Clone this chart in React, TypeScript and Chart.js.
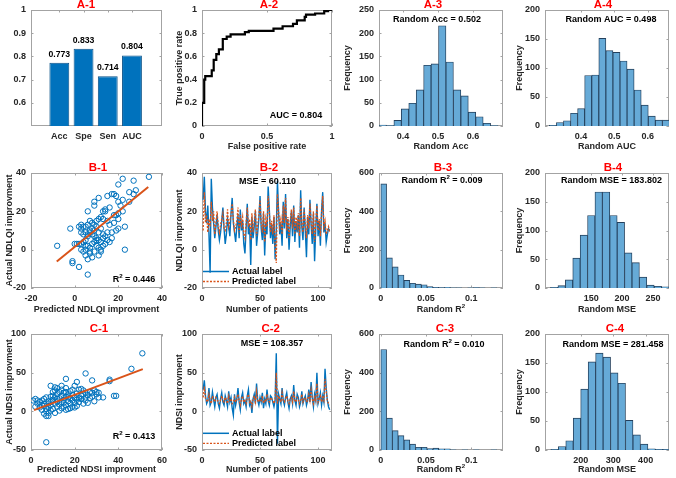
import React, { useEffect, useRef } from 'react';
import { Chart, registerables } from 'chart.js';

Chart.register(...registerables);

const FONT = '"Liberation Sans", Arial, Helvetica, sans-serif';
const TEXT = '#262626';
const BOX = '#a3a3a3';
const BLUE = '#0072BD';
const ORANGE = '#D95319';
const HIST_FILL = '#66AAD7';
const HIST_EDGE = '#24405c';
const PADL = 40, PADT = 20, PADR = 14, PADB = 40;

// ---------------- data ----------------
const metricNames = ['Acc', 'Spe', 'Sen', 'AUC'];
const metricValues = [0.773, 0.833, 0.714, 0.804];

const rocPoints: [number, number][] = [
  [0, 0], [0, 0.2], [0.017, 0.2], [0.017, 0.4], [0.025, 0.4], [0.025, 0.43], [0.075, 0.43], [0.075, 0.48],
  [0.09, 0.48], [0.09, 0.57], [0.11, 0.57], [0.11, 0.62], [0.13, 0.62], [0.13, 0.66], [0.16, 0.66], [0.16, 0.75],
  [0.19, 0.75], [0.19, 0.77], [0.22, 0.77], [0.22, 0.79], [0.33, 0.79], [0.33, 0.81], [0.36, 0.81], [0.36, 0.82],
  [0.55, 0.82], [0.55, 0.84], [0.62, 0.84], [0.62, 0.86], [0.7, 0.86], [0.7, 0.88], [0.73, 0.88], [0.73, 0.91],
  [0.79, 0.91], [0.79, 0.94], [0.8, 0.94], [0.8, 0.96], [0.87, 0.96], [0.87, 0.97], [0.94, 0.97], [0.94, 0.99],
  [0.97, 0.99], [0.97, 1], [1, 1],
];

// histograms: first bin edge, bin width, counts
const accBinStart = 0.331, accBinWidth = 0.0213;
const accCounts = [2, 1, 12, 37, 49, 78, 131, 134, 216, 138, 78, 65, 30, 20, 6, 1];
const aucBinStart = 0.305, aucBinWidth = 0.0212;
const aucCounts = [1, 6, 9, 22, 30, 87, 88, 151, 130, 127, 112, 98, 62, 36, 17, 10, 10];
const r2BinStart = 0, r2BinWidth = 0.0064;
const ndlqiR2Counts = [543, 157, 110, 68, 40, 25, 20, 17, 7, 3, 2, 4, 1, 1, 0, 1, 2, 1, 0, 1];
const ndsiR2Counts = [520, 165, 100, 74, 52, 30, 14, 14, 7, 10, 6, 6, 1, 0, 1, 0, 1, 0, 0, 1];
const ndlqiMseBinStart = 84, ndlqiMseBinWidth = 12;
const ndlqiMseCounts = [1, 4, 14, 52, 92, 126, 167, 167, 126, 114, 61, 44, 19, 5, 3, 2];
const ndsiMseBinStart = 108, ndsiMseBinWidth = 23;
const ndsiMseCounts = [1, 6, 16, 55, 105, 152, 167, 160, 133, 115, 51, 26, 10, 2, 1, 1];

// B-1 scatter (predicted, actual)
const ndlqiScatter: [number, number][] = [
  [34, 38], [22, 37], [27, 36], [20, 34], [28, 31], [27, 29], [25, 30], [17, 29], [18, 29], [19, 28],
  [15, 28], [11, 27], [9, 25], [9, 23], [20, 25], [22, 26], [25, 25], [21, 23], [22, 20], [14, 21],
  [14, 20], [6, 20], [20, 19], [18, 18], [12, 17], [13, 16], [11, 16], [10, 15], [15, 15], [18, 14],
  [16, 13], [23, 12], [20, 11], [19, 10], [17, 9], [15, 9], [13, 8], [12, 11], [10, 12], [9, 13],
  [8, 14], [7, 15], [6, 13], [5, 12], [4, 12], [3, 11], [3, 9], [4, 8], [5, 9], [6, 8],
  [7, 10], [8, 8], [9, 7], [10, 6], [11, 5], [12, 4], [13, 6], [14, 7], [15, 5], [11, 9],
  [9, 10], [8, 11], [7, 9], [6, 7], [5, 5], [4, 4], [3, 3], [2, 3], [1, 3], [0, 3],
  [-2, 11], [-8, 2], [-1, -6], [-1, -7], [2, -9], [6, -13], [5, -3], [7, -2], [8, -4], [6, -5],
  [9, -1], [7, 1], [6, 2], [5, 2], [10, 2], [11, 1], [12, 0], [8, 3], [9, 4], [10, 5],
  [23, 0], [17, 6], [16, 4], [14, 3], [13, 2], [12, -1], [11, -3], [7, -1], [5, 0], [4, -1],
  [3, 0], [19, 18], [20, 16], [16, 22], [13, 20], [3, 13], [2, 12],
];
const ndlqiFit: [number, number][] = [[-8.2, -6.2], [33.7, 32.7]];

// C-1 scatter (predicted, actual)
const ndsiScatter: [number, number][] = [
  [51, 75], [46, 55], [36, 41], [36, 39], [25, 49], [16, 42], [28, 40], [21, 38], [9, 33], [11, 31],
  [23, 29], [24, 27], [30, 25], [31, 24], [39, 20], [38, 20], [2, 16], [7, -6], [8, -6], [7, -40],
  [4, 12], [5, 14], [6, 10], [6, 7], [7, 3], [7, 0], [8, -2], [8, 5], [9, 12], [9, 8],
  [10, 15], [10, 20], [10, 3], [11, 10], [11, 18], [12, 22], [12, 6], [12, 13], [13, 25], [13, 17],
  [13, 9], [14, 28], [14, 20], [14, 4], [15, 15], [15, 11], [15, 24], [16, 19], [16, 8], [16, 30],
  [17, 13], [17, 22], [17, 3], [18, 17], [18, 10], [18, 26], [19, 14], [19, 6], [19, 21], [20, 33],
  [20, 18], [20, 11], [21, 23], [21, 15], [21, 7], [22, 28], [22, 12], [23, 20], [23, 16], [24, 10],
  [24, 22], [25, 18], [25, 14], [26, 21], [26, 11], [27, 25], [27, 17], [28, 19], [29, 13], [30, 22],
  [31, 18], [33, 18], [3, 10], [4, 5], [5, 2], [6, -3], [8, 13], [9, 19], [10, 25], [11, 27],
  [12, 16], [13, 1], [14, 12], [15, 6], [16, 2], [17, 18], [18, 4], [19, 28], [11, -2], [9, 1],
  [5, 8], [6, 16], [7, 18], [8, 10], [2, 6], [3, 14], [12, 30], [14, 33], [16, 25], [20, 5],
  [22, 17], [25, 24], [28, 24], [29, 27], [1, 14],
];
const ndsiFit: [number, number][] = [[1.4, 1.6], [51.2, 54.5]];

// B-2 per patient
const ndlqiActual = [
  26, 38, 20, 14, 23, 8, -12, 37, 22, 14,
  6, 12, 18, 10, 5, 9, 15, 22, 11, 3,
  8, 16, 12, 7, 19, 27, 14, 9, 4, 12,
  18, 6, 21, 10, 15, 3, -2, 11, 24, 8,
  13, -8, 17, 6, 12, 20, 2, 9, 16, 28,
  11, 5, 19, -3, 14, 8, 33, 21, 6, 13,
  3, 17, -5, 10, 36, 19, 8, 14, 2, 25,
  11, 29, 6, 16, 0, 12, 20, 7, 23, 4,
  15, 9, 18, 1, 31, 12, 5, 22, 10, -4,
  17, 8, 26, 13, 3, 19, -6, 11, 24, 7,
  15, 2, 20, 30, 9, 14, 4, 8, 11, 10,
];
const ndlqiPredicted = [
  10, 30, 14, 18, 9, 16, 12, 25, 15, 20,
  8, 14, 20, 12, 9, 13, 16, 19, 11, 10,
  14, 21, 12, 15, 18, 24, 16, 10, 12, 15,
  22, 9, 18, 13, 17, 8, 6, 14, 22, 12,
  16, 5, 19, 9, 15, 21, 7, 13, 18, 26,
  14, 9, 20, 4, 16, 12, 28, 20, 9, 15,
  8, 18, 3, -7, 29, 20, 12, 16, 8, 23,
  14, 27, 10, 17, 6, 15, 21, 11, 22, 8,
  17, 12, 19, 7, 27, 14, 9, 21, 13, 6,
  18, 11, 24, 15, 8, 20, 4, 14, 23, 10,
  16, 7, 19, 28, 12, 15, 8, 10, 12, 9,
];

// C-2 per patient
const ndsiActual = [
  28, 40, 20, 10, 14, 30, 8, 12, 25, 15,
  6, 18, 22, 10, 4, 16, 24, 12, 8, 20,
  14, 6, 26, 12, 18, 4, -5, 22, 8, 16,
  30, 12, 2, 18, 24, 10, 14, 6, 20, 28,
  8, 12, -2, 16, 22, 10, 36, 14, 8, 18,
  12, 24, 4, 16, 10, 28, 14, 8, 20, 18,
  12, 6, 14, 75, -42, 22, 16, 10, 30, 14,
  8, 18, 24, 12, 4, 16, 20, 10, 34, 14,
  8, 22, 18, 6, 12, 26, 10, 16, 20, 8,
  14, 28, 12, 38, 18, 6, 22, 14, 50, 10,
  16, 24, 8, 20, 12, 55, 30, 14, 6, 2,
];
const ndsiPredicted = [
  18, 32, 16, 14, 12, 22, 14, 10, 20, 16,
  12, 18, 16, 12, 10, 15, 20, 14, 12, 18,
  15, 10, 20, 14, 16, 10, 12, 18, 12, 15,
  22, 14, 8, 16, 20, 12, 14, 10, 18, 22,
  12, 14, 6, 16, 20, 12, 26, 14, 12, 16,
  14, 20, 10, 15, 12, 22, 14, 12, 18, 16,
  14, 10, 16, 50, 10, 20, 16, 12, 24, 14,
  12, 16, 20, 14, 10, 16, 18, 12, 26, 14,
  12, 18, 16, 10, 14, 22, 12, 16, 18, 12,
  14, 22, 14, 28, 16, 10, 18, 14, 36, 12,
  16, 20, 12, 18, 14, 42, 26, 14, 10, 8,
];

// tick values / labels
const ticksA1Y = [0.6, 0.7, 0.8, 0.9, 1];
const ticksUnit = [0, 0.2, 0.4, 0.6, 0.8, 1];
const ticksHalf = [0, 0.5, 1];
const ticksRandAcc = [0.4, 0.5, 0.6];
const ticksFreq250 = [0, 50, 100, 150, 200, 250];
const ticksFreq200 = [0, 50, 100, 150, 200];
const ticksFreq600 = [0, 200, 400, 600];
const ticksR2 = [0, 0.05, 0.1];
const ticksNdlqi = [-20, 0, 20, 40];
const ticksPatients = [0, 50, 100];
const ticksNdlqiMse = [150, 200, 250];
const ticksNdsiX = [0, 20, 40, 60];
const ticksNdsiY = [-50, 0, 50, 100];
const ticksNdsiMse = [200, 300, 400];

// ---------------- helpers ----------------
type AxisDef = { min: number; max: number; ticks: number[]; labels?: string[] };
type Ann = { text: string; x: number; y: number };
type PanelDef = {
  key: string;
  box: [number, number, number, number];
  title: string; titleX: number; titleY: number;
  xTitle?: string; xTitleY: number;
  yTitle?: string; yTitleX: number;
  x: AxisDef; y: AxisDef;
  type: 'bar' | 'scatter';
  datasets: () => any[];
  anns: Ann[];
  legend?: [number, number];
  barLabels?: boolean;
};

function drawRich(ctx: CanvasRenderingContext2D, text: string, x: number, y: number, size: number, color: string, align: 'center' | 'left' = 'center') {
  const segs: { t: string; sup: boolean }[] = [];
  let cur = '';
  for (let i = 0; i < text.length; i++) {
    if (text[i] === '^') {
      if (cur) segs.push({ t: cur, sup: false });
      cur = '';
      segs.push({ t: text[i + 1], sup: true });
      i++;
    } else cur += text[i];
  }
  if (cur) segs.push({ t: cur, sup: false });
  const supSize = size * 0.68;
  const widths = segs.map(s => {
    ctx.font = `bold ${s.sup ? supSize : size}px ${FONT}`;
    return ctx.measureText(s.t).width;
  });
  const total = widths.reduce((a, b) => a + b, 0);
  let sx = align === 'center' ? x - total / 2 : x;
  ctx.textBaseline = 'middle';
  ctx.textAlign = 'left';
  ctx.fillStyle = color;
  segs.forEach((s, i) => {
    ctx.font = `bold ${s.sup ? supSize : size}px ${FONT}`;
    ctx.fillText(s.t, sx, s.sup ? y - size * 0.42 : y);
    sx += widths[i];
  });
}

const fmt = (v: number) => String(v);

function axisOpts(a: AxisDef, isX: boolean) {
  return {
    type: 'linear',
    min: a.min,
    max: a.max,
    bounds: 'data',
    offset: false,
    grid: { display: false, drawTicks: false },
    border: { display: false },
    title: { display: false },
    afterBuildTicks: (s: any) => { s.ticks = a.ticks.map(v => ({ value: v })); },
    afterFit: (s: any) => { if (isX) s.height = PADB; else s.width = PADL; },
    ticks: {
      autoSkip: false,
      maxRotation: 0,
      minRotation: 0,
      padding: isX ? 5 : 5,
      color: TEXT,
      font: { family: FONT, size: 9, weight: 'bold' },
      callback: (_v: any, i: number) => (a.labels ? a.labels[i] : fmt(a.ticks[i])),
    },
  };
}

function histDataset(start: number, width: number, counts: number[]) {
  return {
    data: counts.map((c, i) => ({ x: start + width * (i + 0.5), y: c })),
    backgroundColor: HIST_FILL,
    borderColor: HIST_EDGE,
    borderWidth: 0.9,
    barPercentage: 1,
    categoryPercentage: 1,
  };
}

function lineDataset(values: number[], color: string, dashed: boolean, order: number) {
  return {
    data: values.map((v, i) => ({ x: i + 1, y: v })),
    showLine: true,
    pointRadius: 0,
    borderColor: color,
    borderWidth: dashed ? 1.3 : 1.4,
    borderDash: dashed ? [2, 1.5] : [],
    tension: 0,
    order,
  };
}

function scatterDatasets(points: [number, number][], fit: [number, number][]) {
  return [
    {
      data: fit.map(p => ({ x: p[0], y: p[1] })),
      showLine: true, pointRadius: 0, borderColor: ORANGE, borderWidth: 2, order: 0,
    },
    {
      data: points.map(p => ({ x: p[0], y: p[1] })),
      pointRadius: 2.7, pointBorderWidth: 1, borderColor: BLUE, pointBorderColor: BLUE,
      backgroundColor: 'rgba(0,0,0,0)', pointBackgroundColor: 'rgba(0,0,0,0)', order: 1,
    },
  ];
}

function makePlugin(def: PanelDef) {
  const [l, t, r, b] = def.box;
  const ox = l - PADL, oy = t - PADT;
  return {
    id: 'panelDecor',
    beforeDatasetsDraw(chart: any) {
      const { ctx, chartArea: ca } = chart;
      ctx.save();
      ctx.strokeStyle = BOX;
      ctx.lineWidth = 1;
      ctx.strokeRect(ca.left + 0.5, ca.top + 0.5, ca.right - ca.left - 1, ca.bottom - ca.top - 1);
      const xs = chart.scales.x, ys = chart.scales.y;
      ctx.beginPath();
      def.x.ticks.forEach(v => {
        const px = Math.round(xs.getPixelForValue(v)) + 0.5;
        ctx.moveTo(px, ca.bottom); ctx.lineTo(px, ca.bottom - 2.5);
        ctx.moveTo(px, ca.top); ctx.lineTo(px, ca.top + 2.5);
      });
      def.y.ticks.forEach(v => {
        const py = Math.round(ys.getPixelForValue(v)) + 0.5;
        ctx.moveTo(ca.left, py); ctx.lineTo(ca.left + 2.5, py);
        ctx.moveTo(ca.right, py); ctx.lineTo(ca.right - 2.5, py);
      });
      ctx.stroke();
      ctx.restore();
    },
    afterDraw(chart: any) {
      const { ctx } = chart;
      ctx.save();
      drawRich(ctx, def.title, def.titleX - ox, def.titleY - oy, 11.5, '#FF0000');
      const cx = (l + r) / 2 - ox, cy = (t + b) / 2 - oy;
      if (def.xTitle) drawRich(ctx, def.xTitle, cx, def.xTitleY - oy, 9, TEXT);
      if (def.yTitle) {
        ctx.save();
        ctx.translate(def.yTitleX - ox, cy);
        ctx.rotate(-Math.PI / 2);
        drawRich(ctx, def.yTitle, 0, 0, 9, TEXT);
        ctx.restore();
      }
      def.anns.forEach(a => drawRich(ctx, a.text, a.x - ox, a.y - oy, 9, '#000'));
      if (def.barLabels) {
        const xs = chart.scales.x, ys = chart.scales.y;
        metricValues.forEach((v, i) => {
          drawRich(ctx, v.toFixed(3), xs.getPixelForValue(i + 1), ys.getPixelForValue(v) - 8.5, 8.7, '#000');
        });
      }
      if (def.legend) {
        const [y0, y1] = def.legend;
        ctx.lineWidth = 1.5;
        ctx.strokeStyle = BLUE;
        ctx.setLineDash([]);
        ctx.beginPath(); ctx.moveTo(203 - ox, y0 - oy); ctx.lineTo(229 - ox, y0 - oy); ctx.stroke();
        ctx.strokeStyle = ORANGE;
        ctx.lineWidth = 1.3;
        ctx.setLineDash([2, 1.5]);
        ctx.beginPath(); ctx.moveTo(203 - ox, y1 - oy); ctx.lineTo(229 - ox, y1 - oy); ctx.stroke();
        ctx.setLineDash([]);
        drawRich(ctx, 'Actual label', 232 - ox, y0 - oy, 9, '#000', 'left');
        drawRich(ctx, 'Predicted label', 232 - ox, y1 - oy, 9, '#000', 'left');
      }
      ctx.restore();
    },
  };
}

function buildConfig(def: PanelDef): any {
  return {
    type: def.type,
    data: { datasets: def.datasets() },
    options: {
      responsive: false,
      maintainAspectRatio: false,
      animation: false,
      events: [],
      devicePixelRatio: 1,
      layout: { padding: { left: 0, top: PADT, right: PADR, bottom: 0 } },
      plugins: { legend: { display: false }, tooltip: { enabled: false }, title: { display: false } },
      scales: { x: axisOpts(def.x, true), y: axisOpts(def.y, false) },
    },
    plugins: [makePlugin(def)],
  };
}

// ---------------- layout ----------------
const rowA = { t: 10, b: 126, titleY: 4.5, xTitleY: 147 };
const rowB = { t: 173, b: 288, titleY: 167.5, xTitleY: 310 };
const rowC = { t: 334, b: 450, titleY: 328.5, xTitleY: 470 };
const cols = [
  { l: 31, r: 162, yt: 10 },
  { l: 202, r: 332, yt: 180 },
  { l: 379, r: 503, yt: 348 },
  { l: 545, r: 669, yt: 520 },
];
const place = (row: typeof rowA, c: number) => ({
  box: [cols[c].l, row.t, cols[c].r, row.b] as [number, number, number, number],
  titleY: row.titleY, xTitleY: row.xTitleY, yTitleX: cols[c].yt,
});

const panels: PanelDef[] = [
  {
    key: 'A1', ...place(rowA, 0), title: 'A-1', titleX: 86,
    x: { min: -0.17, max: 5.24, ticks: [1, 2, 3, 4], labels: metricNames },
    y: { min: 0.5, max: 1, ticks: ticksA1Y },
    type: 'bar', barLabels: true, anns: [],
    datasets: () => [{
      data: metricValues.map((v, i) => ({ x: i + 1, y: v })),
      backgroundColor: BLUE, borderColor: '#0b5288', borderWidth: 1,
      barPercentage: 0.82, categoryPercentage: 1,
    }],
  },
  {
    key: 'A2', ...place(rowA, 1), title: 'A-2', titleX: 269,
    xTitle: 'False positive rate', yTitle: 'True positive rate',
    x: { min: 0, max: 1, ticks: ticksHalf }, y: { min: 0, max: 1, ticks: ticksUnit },
    type: 'scatter', anns: [{ text: 'AUC = 0.804', x: 296, y: 116 }],
    datasets: () => [{
      data: rocPoints.map(p => ({ x: p[0], y: p[1] })), showLine: true, pointRadius: 0,
      borderColor: '#000', borderWidth: 2.2, tension: 0,
    }],
  },
  {
    key: 'A3', ...place(rowA, 2), title: 'A-3', titleX: 433,
    xTitle: 'Random Acc', yTitle: 'Frequency',
    x: { min: 0.331, max: 0.686, ticks: ticksRandAcc }, y: { min: 0, max: 250, ticks: ticksFreq250 },
    type: 'bar', anns: [{ text: 'Random Acc = 0.502', x: 437, y: 19.5 }],
    datasets: () => [histDataset(accBinStart, accBinWidth, accCounts)],
  },
  {
    key: 'A4', ...place(rowA, 3), title: 'A-4', titleX: 603,
    xTitle: 'Random AUC', yTitle: 'Frequency',
    x: { min: 0.292, max: 0.664, ticks: ticksRandAcc }, y: { min: 0, max: 200, ticks: ticksFreq200 },
    type: 'bar', anns: [{ text: 'Random AUC = 0.498', x: 611, y: 19.5 }],
    datasets: () => [histDataset(aucBinStart, aucBinWidth, aucCounts)],
  },
  {
    key: 'B1', ...place(rowB, 0), title: 'B-1', titleX: 98,
    xTitle: 'Predicted NDLQI improvment', yTitle: 'Actual NDLQI improvment',
    x: { min: -20, max: 40, ticks: ticksNdlqi }, y: { min: -20, max: 40, ticks: ticksNdlqi },
    type: 'scatter', anns: [{ text: 'R^2 = 0.446', x: 134, y: 280 }],
    datasets: () => scatterDatasets(ndlqiScatter, ndlqiFit),
  },
  {
    key: 'B2', ...place(rowB, 1), title: 'B-2', titleX: 269,
    xTitle: 'Number of patients', yTitle: 'NDLQI improvment',
    x: { min: 0, max: 112, ticks: ticksPatients }, y: { min: -20, max: 40, ticks: ticksNdlqi },
    type: 'scatter', anns: [{ text: 'MSE = 60.110', x: 267.5, y: 181.7 }], legend: [271.5, 281.5],
    datasets: () => [lineDataset(ndlqiPredicted, ORANGE, true, 0), lineDataset(ndlqiActual, BLUE, false, 1)],
  },
  {
    key: 'B3', ...place(rowB, 2), title: 'B-3', titleX: 443,
    xTitle: 'Random R^2', yTitle: 'Frequency',
    x: { min: -0.002, max: 0.135, ticks: ticksR2 }, y: { min: 0, max: 600, ticks: ticksFreq600 },
    type: 'bar', anns: [{ text: 'Random R^2 = 0.009', x: 442, y: 181 }],
    datasets: () => [histDataset(r2BinStart, r2BinWidth, ndlqiR2Counts)],
  },
  {
    key: 'B4', ...place(rowB, 3), title: 'B-4', titleX: 613,
    xTitle: 'Random MSE', yTitle: 'Frequency',
    x: { min: 75, max: 276, ticks: ticksNdlqiMse }, y: { min: 0, max: 200, ticks: ticksFreq200 },
    type: 'bar', anns: [{ text: 'Random MSE = 183.802', x: 611.5, y: 181 }],
    datasets: () => [histDataset(ndlqiMseBinStart, ndlqiMseBinWidth, ndlqiMseCounts)],
  },
  {
    key: 'C1', ...place(rowC, 0), title: 'C-1', titleX: 99,
    xTitle: 'Predicted NDSI improvment', yTitle: 'Actual NDSI improvment',
    x: { min: 0, max: 60, ticks: ticksNdsiX }, y: { min: -50, max: 100, ticks: ticksNdsiY },
    type: 'scatter', anns: [{ text: 'R^2 = 0.413', x: 134, y: 436.7 }],
    datasets: () => scatterDatasets(ndsiScatter, ndsiFit),
  },
  {
    key: 'C2', ...place(rowC, 1), title: 'C-2', titleX: 270.7,
    xTitle: 'Number of patients', yTitle: 'NDSI improvment',
    x: { min: 0, max: 112, ticks: ticksPatients }, y: { min: -50, max: 100, ticks: ticksNdsiY },
    type: 'scatter', anns: [{ text: 'MSE = 108.357', x: 272, y: 344 }], legend: [433.3, 443.3],
    datasets: () => [lineDataset(ndsiPredicted, ORANGE, true, 0), lineDataset(ndsiActual, BLUE, false, 1)],
  },
  {
    key: 'C3', ...place(rowC, 2), title: 'C-3', titleX: 445,
    xTitle: 'Random R^2', yTitle: 'Frequency',
    x: { min: -0.002, max: 0.135, ticks: ticksR2 }, y: { min: 0, max: 600, ticks: ticksFreq600 },
    type: 'bar', anns: [{ text: 'Random R^2 = 0.010', x: 444, y: 345 }],
    datasets: () => [histDataset(r2BinStart, r2BinWidth, ndsiR2Counts)],
  },
  {
    key: 'C4', ...place(rowC, 3), title: 'C-4', titleX: 615,
    xTitle: 'Random MSE', yTitle: 'Frequency',
    x: { min: 90, max: 472, ticks: ticksNdsiMse }, y: { min: 0, max: 200, ticks: ticksFreq200 },
    type: 'bar', anns: [{ text: 'Random MSE = 281.458', x: 613, y: 345 }],
    datasets: () => [histDataset(ndsiMseBinStart, ndsiMseBinWidth, ndsiMseCounts)],
  },
];

function Panel({ def }: { def: PanelDef }) {
  const ref = useRef<HTMLCanvasElement>(null);
  const [l, t, r, b] = def.box;
  const w = r - l + PADL + PADR;
  const h = b - t + PADT + PADB;
  useEffect(() => {
    const chart = new Chart(ref.current as HTMLCanvasElement, buildConfig(def));
    return () => chart.destroy();
  }, [def]);
  return (
    <div style={{ position: 'absolute', left: l - PADL, top: t - PADT, width: w, height: h }}>
      <canvas ref={ref} width={w} height={h} style={{ display: 'block', width: w, height: h }} />
    </div>
  );
}

export default function App() {
  return (
    <div style={{ position: 'absolute', left: 0, top: 0, width: 676, height: 478, background: '#fff', overflow: 'hidden' }}>
      {panels.map(p => <Panel key={p.key} def={p} />)}
    </div>
  );
}
